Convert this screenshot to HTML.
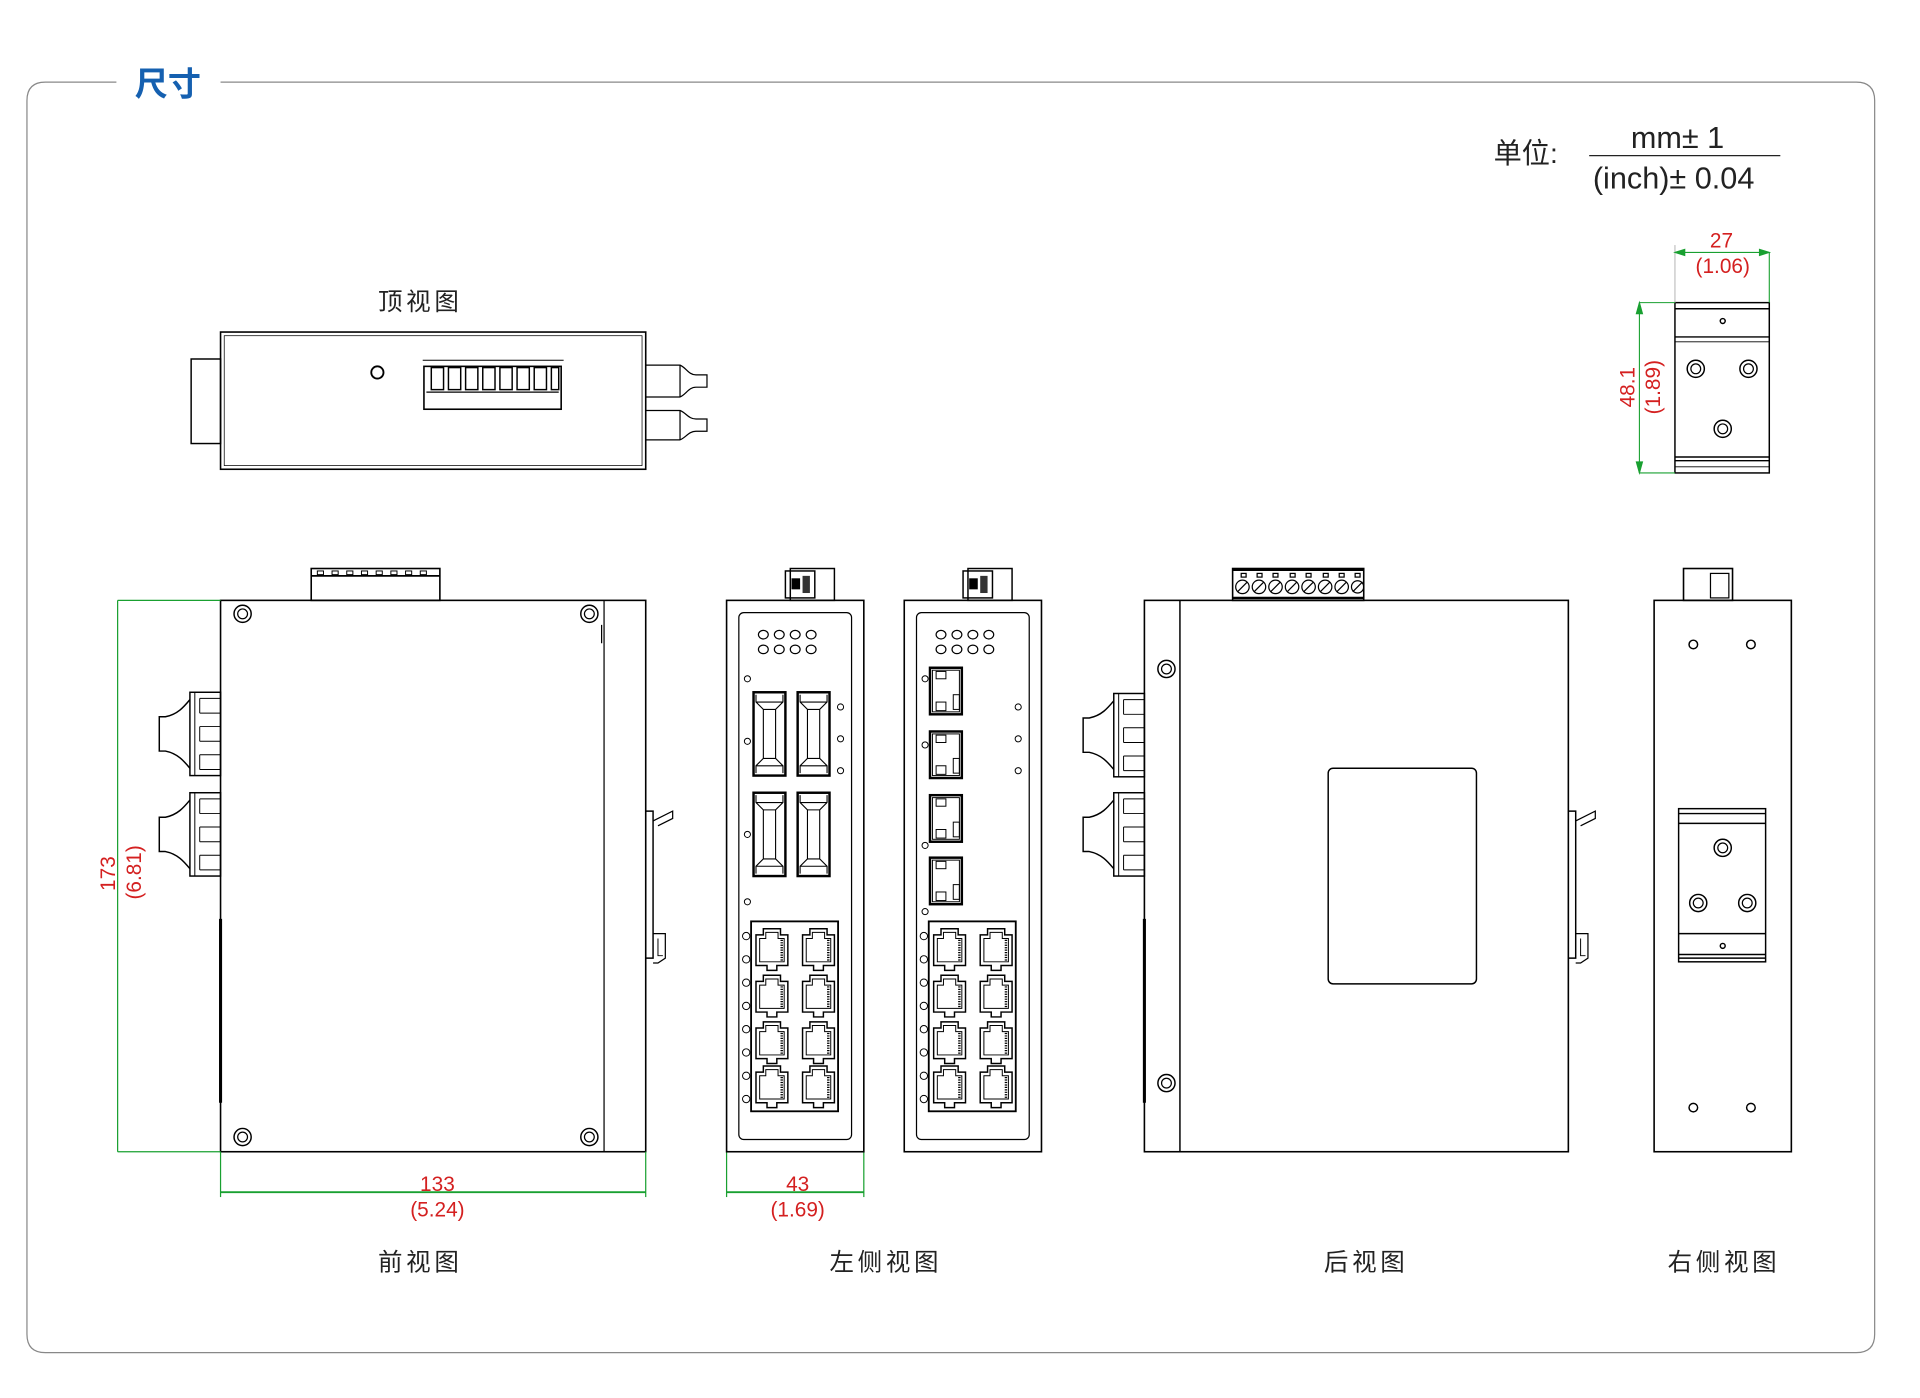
<!DOCTYPE html>
<html><head><meta charset="utf-8"><style>
html,body{margin:0;padding:0;background:#fff;width:1920px;height:1398px;overflow:hidden}
svg{display:block}
text{font-family:"Liberation Sans","Noto Sans CJK SC",sans-serif}
</style></head><body>
<svg width="1920" height="1398" viewBox="0 0 1567 1141" preserveAspectRatio="none" xmlns="http://www.w3.org/2000/svg">
<defs>
<g id="rj">
 <path d="M1 6 H7 V1 H21 V6 H27 V31 H18 V35 H10 V31 H1 Z" fill="none" stroke="#000" stroke-width="1.2"/>
 <path d="M4 9 H9 V4 H19 V9 H24 V28 H4 Z" fill="none" stroke="#000" stroke-width="0.8"/>
 <path d="M22 10 V27" stroke="#000" stroke-width="2" stroke-dasharray="1 1"/>
</g>
<g id="sfp">
 <rect x="0" y="0" width="26" height="68" fill="none" stroke="#000" stroke-width="2"/>
 <path d="M2 2 V8 L8 14 V54 L2 60 V66 M24 2 V8 L18 14 V54 L24 60 V66 M8 14 H18 M8 54 H18 M2 8 H24 M2 60 H24" fill="none" stroke="#000" stroke-width="0.9"/>
</g>
<g id="sfs">
 <rect x="0" y="0" width="26" height="38" fill="none" stroke="#000" stroke-width="2"/>
 <rect x="2" y="2" width="22" height="34" fill="none" stroke="#000" stroke-width="0.8"/>
 <rect x="5" y="28" width="8" height="7" fill="none" stroke="#000" stroke-width="0.8"/>
 <rect x="19" y="22" width="5" height="12" fill="none" stroke="#000" stroke-width="0.8"/>
 <rect x="5" y="3" width="8" height="6" fill="none" stroke="#000" stroke-width="0.8"/>
</g>
<g id="fibL">
 <rect x="25" y="0" width="25" height="68" fill="none" stroke="#000" stroke-width="1.2"/>
 <line x1="29" y1="0" x2="29" y2="68" stroke="#000" stroke-width="0.8"/>
 <path d="M25 6 C20 12 15 18 5 20 H0 V48 H5 C15 50 20 56 25 62" fill="none" stroke="#000" stroke-width="1.2"/>
 <path d="M33 5 H50 M33 17 H50 M33 28 H50 M33 40 H50 M33 51 H50 M33 63 H50" stroke="#000" stroke-width="0.8"/>
 <path d="M33 5 V17 M33 28 V40 M33 51 V63" stroke="#000" stroke-width="0.8"/>
</g>
<g id="din">
 <path d="M0 0 H6 V120 H0" fill="none" stroke="#000" stroke-width="1.2"/>
 <path d="M6 8 L22 0 V6 L10 12 M6 100 H16 V120 L10 124 H6" fill="none" stroke="#000" stroke-width="1"/>
 <path d="M10 104 V118 H14" fill="none" stroke="#000" stroke-width="0.8"/>
</g>
<g id="scr"><circle r="7" fill="none" stroke="#000" stroke-width="1.2"/><circle r="4" fill="none" stroke="#000" stroke-width="1"/></g>
<g id="led"><ellipse rx="4" ry="3.5" fill="none" stroke="#000" stroke-width="1"/></g>
<g id="leds">
 <use href="#led" x="0" y="0"/><use href="#led" x="13" y="0"/><use href="#led" x="26" y="0"/><use href="#led" x="39" y="0"/>
 <use href="#led" x="0" y="12"/><use href="#led" x="13" y="12"/><use href="#led" x="26" y="12"/><use href="#led" x="39" y="12"/>
</g>
<g id="rjblk">
 <rect x="0" y="0" width="71" height="155" fill="none" stroke="#000" stroke-width="1.5"/>
 <use href="#rj" x="3" y="5"/><use href="#rj" x="41" y="5"/>
 <use href="#rj" x="3" y="43"/><use href="#rj" x="41" y="43"/>
 <use href="#rj" x="3" y="81"/><use href="#rj" x="41" y="81"/>
 <use href="#rj" x="3" y="117"/><use href="#rj" x="41" y="117"/>
 <g fill="none" stroke="#000" stroke-width="0.8">
 <circle cx="-4" cy="12" r="3"/><circle cx="-4" cy="31" r="3"/><circle cx="-4" cy="50" r="3"/><circle cx="-4" cy="69" r="3"/>
 <circle cx="-4" cy="88" r="3"/><circle cx="-4" cy="107" r="3"/><circle cx="-4" cy="126" r="3"/><circle cx="-4" cy="145" r="3"/>
 </g>
</g>
<g id="topcon">
 <rect x="4" y="0" width="36" height="26" fill="none" stroke="#000" stroke-width="1.2"/>
 <rect x="0" y="2" width="24" height="22" fill="none" stroke="#000" stroke-width="1.2"/>
 <rect x="5" y="8" width="7" height="9" fill="#000"/>
 <rect x="14" y="6" width="6" height="14" fill="#333"/>
</g>
</defs>

<path d="M95 67 H37 Q22 67 22 82 V1089 Q22 1104 37 1104 H1515 Q1530 1104 1530 1089 V82 Q1530 67 1515 67 H180" fill="none" stroke="#888" stroke-width="1"/>
<text x="110" y="78" font-size="27" font-weight="bold" fill="#1560b0" font-family="'Noto Sans CJK SC',sans-serif">尺寸</text>

<text x="1219" y="133" font-size="23" fill="#222" font-family="'Noto Sans CJK SC',sans-serif">单位:</text>
<text x="1331" y="121" font-size="25" fill="#222">mm± 1</text>
<line x1="1297" y1="127" x2="1453" y2="127" stroke="#222" stroke-width="1"/>
<text x="1300" y="154" font-size="25" fill="#222">(inch)± 0.04</text>

<text x="343" y="253" font-size="20" text-anchor="middle" fill="#222" letter-spacing="3" font-family="'Noto Sans CJK SC',sans-serif">顶视图</text>
<rect x="180" y="271" width="347" height="112" fill="none" stroke="#000" stroke-width="1.3"/>
<rect x="183" y="274" width="341" height="106" fill="none" stroke="#000" stroke-width="0.6"/>
<rect x="156" y="293" width="24" height="69" fill="none" stroke="#000" stroke-width="1.2"/>
<circle cx="308" cy="304" r="5" fill="none" stroke="#000" stroke-width="1.5"/>
<line x1="345" y1="294" x2="460" y2="294" stroke="#000" stroke-width="0.8"/>
<rect x="346" y="299" width="112" height="35" fill="none" stroke="#000" stroke-width="1.3"/>
<g fill="none" stroke="#000" stroke-width="1.2">
<rect x="352" y="300" width="10" height="18"/><rect x="366" y="300" width="10" height="18"/><rect x="380" y="300" width="10" height="18"/><rect x="394" y="300" width="10" height="18"/>
<rect x="408" y="300" width="10" height="18"/><rect x="422" y="300" width="10" height="18"/><rect x="436" y="300" width="10" height="18"/><rect x="450" y="300" width="6" height="18"/>
</g>
<line x1="348" y1="320" x2="456" y2="320" stroke="#000" stroke-width="1"/>
<g fill="none" stroke="#000" stroke-width="1">
<path d="M527 298 H555 C560 300 562 306 568 306 H577 V316 H568 C562 316 560 322 555 324 H527"/>
<line x1="555" y1="298" x2="555" y2="324"/>
<path d="M527 335 H555 C560 337 562 342 568 342 H577 V352 H568 C562 352 560 357 555 359 H527"/>
<line x1="555" y1="335" x2="555" y2="359"/>
</g>

<g fill="none" stroke="#000" stroke-width="1.2">
<rect x="1367" y="247" width="77" height="139"/>
<line x1="1367" y1="252" x2="1444" y2="252"/>
<line x1="1367" y1="275" x2="1444" y2="275"/>
<line x1="1367" y1="279" x2="1444" y2="279" stroke-width="0.7"/>
<line x1="1367" y1="373" x2="1444" y2="373"/>
<line x1="1367" y1="376" x2="1444" y2="376"/>
<line x1="1367" y1="381" x2="1444" y2="381" stroke-width="0.7"/>
<circle cx="1406" cy="262" r="2"/>
</g>
<use href="#scr" x="1384" y="301"/><use href="#scr" x="1427" y="301"/><use href="#scr" x="1406" y="350"/>
<g stroke="#19a030" stroke-width="0.9" fill="#19a030">
<line x1="1367" y1="206" x2="1444" y2="206"/><line x1="1444" y1="206" x2="1444" y2="247"/><line x1="1367" y1="200" x2="1367" y2="247" stroke="#bbb"/>
<path d="M1367 206 l8 -2.5 v5z M1444 206 l-8 -2.5 v5z"/>
<line x1="1338" y1="247" x2="1338" y2="386"/><line x1="1338" y1="247" x2="1367" y2="247"/><line x1="1338" y1="386" x2="1367" y2="386"/>
<path d="M1338 247 l-2.5 9 h5z M1338 386 l-2.5 -9 h5z"/>
</g>
<g fill="#d42020" font-size="17" text-anchor="middle">
<text x="1405" y="202">27</text><text x="1406" y="223">(1.06)</text>
<text transform="translate(1334,316) rotate(-90)">48.1</text>
<text transform="translate(1355,316) rotate(-90)">(1.89)</text>
</g>

<rect x="254" y="464" width="105" height="26" fill="none" stroke="#000" stroke-width="1.3"/>
<line x1="254" y1="470" x2="359" y2="470" stroke="#000" stroke-width="1.5"/>
<g fill="none" stroke="#000" stroke-width="0.8">
<rect x="259" y="466" width="5" height="3"/><rect x="271" y="466" width="5" height="3"/><rect x="283" y="466" width="5" height="3"/><rect x="295" y="466" width="5" height="3"/><rect x="307" y="466" width="5" height="3"/><rect x="319" y="466" width="5" height="3"/><rect x="331" y="466" width="5" height="3"/><rect x="343" y="466" width="5" height="3"/>
</g>
<rect x="180" y="490" width="347" height="450" fill="none" stroke="#000" stroke-width="1.3"/>
<line x1="493" y1="490" x2="493" y2="940" stroke="#000" stroke-width="1"/>
<line x1="491" y1="510" x2="491" y2="525" stroke="#000"/>
<use href="#scr" x="198" y="501"/><use href="#scr" x="481" y="501"/><use href="#scr" x="198" y="928"/><use href="#scr" x="481" y="928"/>
<use href="#fibL" x="130" y="565"/><use href="#fibL" x="130" y="647"/>
<use href="#din" x="527" y="662"/>
<line x1="180" y1="750" x2="180" y2="900" stroke="#000" stroke-width="2.5"/>
<g stroke="#19a030" stroke-width="1" fill="#19a030">
<line x1="96" y1="490" x2="180" y2="490"/><line x1="96" y1="940" x2="180" y2="940"/><line x1="96" y1="490" x2="96" y2="940"/>
<line x1="180" y1="940" x2="180" y2="977"/><line x1="527" y1="940" x2="527" y2="977"/><line x1="180" y1="973" x2="527" y2="973" stroke-width="1.5"/>
<line x1="593" y1="940" x2="593" y2="977"/><line x1="705" y1="940" x2="705" y2="977"/><line x1="593" y1="973" x2="705" y2="973" stroke-width="1.5"/>
</g>
<g fill="#d42020" font-size="17" text-anchor="middle">
<text transform="translate(94,713) rotate(-90)">173</text>
<text transform="translate(115,712) rotate(-90)">(6.81)</text>
<text x="357" y="972">133</text><text x="357" y="993">(5.24)</text>
<text x="651" y="972">43</text><text x="651" y="993">(1.69)</text>
</g>
<text x="343" y="1037" font-size="20" text-anchor="middle" fill="#222" letter-spacing="3" font-family="'Noto Sans CJK SC',sans-serif">前视图</text>

<use href="#topcon" x="641" y="464"/><use href="#topcon" x="786" y="464"/>
<rect x="593" y="490" width="112" height="450" fill="none" stroke="#000" stroke-width="1.3"/>
<rect x="603" y="500" width="92" height="430" rx="4" fill="none" stroke="#000" stroke-width="1"/>
<rect x="738" y="490" width="112" height="450" fill="none" stroke="#000" stroke-width="1.3"/>
<rect x="748" y="500" width="92" height="430" rx="4" fill="none" stroke="#000" stroke-width="1"/>
<use href="#leds" x="623" y="518"/><use href="#leds" x="768" y="518"/>
<use href="#sfp" x="615" y="565"/><use href="#sfp" x="651" y="565"/><use href="#sfp" x="615" y="647"/><use href="#sfp" x="651" y="647"/>
<g fill="none" stroke="#000" stroke-width="0.8">
<circle cx="610" cy="554" r="2.5"/><circle cx="610" cy="605" r="2.5"/><circle cx="610" cy="681" r="2.5"/><circle cx="610" cy="736" r="2.5"/>
<circle cx="686" cy="577" r="2.5"/><circle cx="686" cy="603" r="2.5"/><circle cx="686" cy="629" r="2.5"/>
<circle cx="755" cy="554" r="2.5"/><circle cx="755" cy="608" r="2.5"/><circle cx="755" cy="690" r="2.5"/><circle cx="755" cy="744" r="2.5"/>
<circle cx="831" cy="577" r="2.5"/><circle cx="831" cy="603" r="2.5"/><circle cx="831" cy="629" r="2.5"/>
</g>
<use href="#sfs" x="759" y="545"/><use href="#sfs" x="759" y="597"/><use href="#sfs" x="759" y="649"/><use href="#sfs" x="759" y="700"/>
<use href="#rjblk" x="613" y="752"/><use href="#rjblk" x="758" y="752"/>
<text x="723" y="1037" font-size="20" text-anchor="middle" fill="#222" letter-spacing="3" font-family="'Noto Sans CJK SC',sans-serif">左侧视图</text>

<rect x="1006" y="464" width="107" height="26" fill="none" stroke="#000" stroke-width="1.3"/>
<line x1="1006" y1="465" x2="1113" y2="465" stroke="#000" stroke-width="2"/>
<line x1="1006" y1="488" x2="1113" y2="488" stroke="#000" stroke-width="2"/>
<g fill="none" stroke="#000" stroke-width="1">
<circle cx="1014" cy="479" r="5.5"/><circle cx="1027.5" cy="479" r="5.5"/><circle cx="1041" cy="479" r="5.5"/><circle cx="1054.5" cy="479" r="5.5"/><circle cx="1068" cy="479" r="5.5"/><circle cx="1081.5" cy="479" r="5.5"/><circle cx="1095" cy="479" r="5.5"/><circle cx="1108" cy="479" r="5"/>
<path d="M1010 483 l8 -8 M1023.5 483 l8 -8 M1037 483 l8 -8 M1050.5 483 l8 -8 M1064 483 l8 -8 M1077.5 483 l8 -8 M1091 483 l8 -8 M1104 483 l8 -8"/>
<rect x="1013" y="468" width="4" height="3"/><rect x="1026" y="468" width="4" height="3"/><rect x="1039" y="468" width="4" height="3"/><rect x="1053" y="468" width="4" height="3"/><rect x="1066" y="468" width="4" height="3"/><rect x="1080" y="468" width="4" height="3"/><rect x="1093" y="468" width="4" height="3"/><rect x="1106" y="468" width="4" height="3"/>
</g>
<rect x="934" y="490" width="346" height="450" fill="none" stroke="#000" stroke-width="1.3"/>
<line x1="963" y1="490" x2="963" y2="940" stroke="#000" stroke-width="1.2"/>
<rect x="1084" y="627" width="121" height="176" rx="4" fill="none" stroke="#000" stroke-width="1.2"/>
<use href="#scr" x="952" y="546"/><use href="#scr" x="952" y="884"/>
<use href="#fibL" x="884" y="566"/><use href="#fibL" x="884" y="647"/>
<use href="#din" x="1280" y="662"/>
<line x1="934" y1="750" x2="934" y2="900" stroke="#000" stroke-width="2.5"/>
<text x="1115" y="1037" font-size="20" text-anchor="middle" fill="#222" letter-spacing="3" font-family="'Noto Sans CJK SC',sans-serif">后视图</text>

<rect x="1374" y="464" width="40" height="26" fill="none" stroke="#000" stroke-width="1.3"/>
<rect x="1396" y="468" width="15" height="20" fill="none" stroke="#000" stroke-width="1"/>
<rect x="1350" y="490" width="112" height="450" fill="none" stroke="#000" stroke-width="1.3"/>
<g fill="none" stroke="#000" stroke-width="1.2">
<circle cx="1382" cy="526" r="3.5"/><circle cx="1429" cy="526" r="3.5"/><circle cx="1382" cy="904" r="3.5"/><circle cx="1429" cy="904" r="3.5"/>
<rect x="1370" y="660" width="71" height="125"/>
<line x1="1370" y1="664" x2="1441" y2="664"/><line x1="1370" y1="672" x2="1441" y2="672"/>
<line x1="1370" y1="762" x2="1441" y2="762"/><line x1="1370" y1="779" x2="1441" y2="779"/><line x1="1370" y1="782" x2="1441" y2="782"/>
<circle cx="1406" cy="772" r="2"/>
</g>
<use href="#scr" x="1406" y="692"/><use href="#scr" x="1386" y="737"/><use href="#scr" x="1426" y="737"/>
<text x="1407" y="1037" font-size="20" text-anchor="middle" fill="#222" letter-spacing="3" font-family="'Noto Sans CJK SC',sans-serif">右侧视图</text>
</svg>
</body></html>
